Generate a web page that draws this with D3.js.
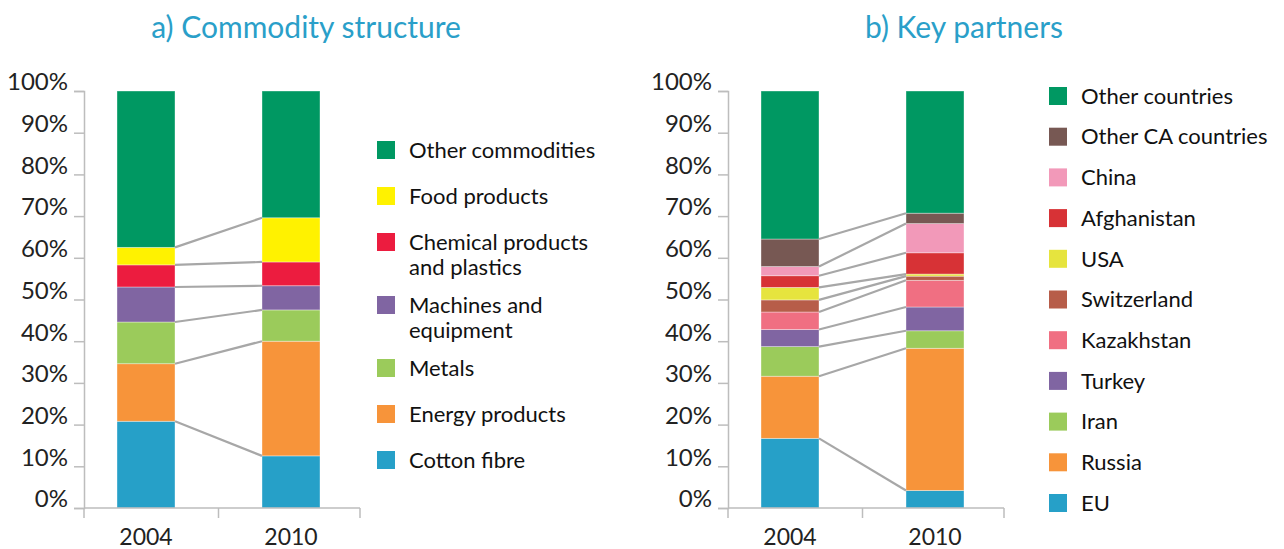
<!DOCTYPE html>
<html>
<head>
<meta charset="utf-8">
<script src="https://cdn.jsdelivr.net/npm/d3@7"></script>
<style>
  body { margin: 0; background: #fff; }
  text { font-family: Lato, "Open Sans", sans-serif; }
</style>
</head>
<body>
<div id="chart"></div>
<script>
// data (shares, %), listed bottom to top of the stack
const years = ['2004', '2010'];
const yTickValues = [0, 10, 20, 30, 40, 50, 60, 70, 80, 90, 100];

const commodityNames = ['Cotton fibre', 'Energy products', 'Metals', 'Machines and equipment',
  'Chemical products and plastics', 'Food products', 'Other commodities'];
const commodity2004 = [20.8, 13.8, 10.0, 8.4, 5.3, 4.2, 37.5];
const commodity2010 = [12.5, 27.5, 7.5, 5.8, 5.7, 10.6, 30.4];
const commodityLegend = [['Cotton fibre'], ['Energy products'], ['Metals'], ['Machines and', 'equipment'],
  ['Chemical products', 'and plastics'], ['Food products'], ['Other commodities']];

const partnerNames = ['EU', 'Russia', 'Iran', 'Turkey', 'Kazakhstan', 'Switzerland', 'USA',
  'Afghanistan', 'China', 'Other CA countries', 'Other countries'];
const partner2004 = [16.7, 14.9, 7.1, 4.1, 4.2, 2.9, 3.0, 2.8, 2.2, 6.6, 35.5];
const partner2010 = [4.2, 34.1, 4.2, 5.7, 6.4, 1.0, 0.5, 5.1, 7.0, 2.5, 29.3];

const commodityColors = ['#26a0c8', '#f7943a', '#9bcb5b', '#8065a2', '#ec1c3f', '#fff200', '#009862'];
const partnerColors = ['#26a0c8', '#f7943a', '#9bcb5b', '#8065a2', '#f06f82', '#b75d49', '#e6e43e',
  '#d73236', '#f299b9', '#775853', '#009862'];

const W = 1284, H = 549;
const svg = d3.select('#chart').append('svg')
  .attr('width', W).attr('height', H);

function drawPanel(cfg) {
  const g = svg.append('g');

  const y = d3.scaleLinear().domain([0, 100]).range([508, 91]);
  // bars 58px wide, 145px apart
  const x = d3.scaleBand().domain(years)
    .range([cfg.x0, cfg.x0 + 269]).paddingInner(0.6).paddingOuter(0.2276);

  // title
  g.append('text')
    .attr('x', cfg.titleX).attr('y', 38)
    .attr('text-anchor', 'middle')
    .attr('fill', '#2a9fc9')
    .style('font-size', '30px')
    .text(cfg.title);

  // stacks
  const rows = [cfg.v2004, cfg.v2010];
  const stacks = rows.map(vals => {
    let acc = 0;
    return vals.map((v, i) => { const s = { y0: acc, y1: acc + v, i }; acc += v; return s; });
  });

  years.forEach((yr, k) => {
    g.selectAll('.seg' + k)
      .data(stacks[k])
      .enter().append('rect')
      .attr('x', x(yr))
      .attr('width', x.bandwidth())
      .attr('y', d => y(d.y1))
      .attr('height', d => y(d.y0) - y(d.y1))
      .attr('fill', d => cfg.colors[d.i])
      .attr('stroke', 'rgba(255,255,255,0.45)')
      .attr('stroke-width', 0.8);
  });

  // connector lines between segment tops
  const links = stacks[0].slice(0, -1).map((s, i) => ({ a: s.y1, b: stacks[1][i].y1 }));
  g.selectAll('.link')
    .data(links)
    .enter().append('line')
    .attr('x1', x(years[0]) + x.bandwidth())
    .attr('x2', x(years[1]))
    .attr('y1', d => y(d.a))
    .attr('y2', d => y(d.b))
    .attr('stroke', '#a7a7a7')
    .attr('stroke-width', 2.2);

  // y axis
  const yAxis = g.append('g')
    .attr('transform', 'translate(' + cfg.x0 + ',0)')
    .call(d3.axisLeft(y).tickValues(yTickValues).tickSize(10).tickPadding(6)
      .tickFormat(d => d + '%'));
  yAxis.select('.domain').attr('stroke', '#bdbdbd').attr('stroke-width', 1.5);
  yAxis.selectAll('.tick line').attr('stroke', '#bdbdbd').attr('stroke-width', 1.5);
  yAxis.selectAll('.tick text')
    .attr('dy', '-0.05em')
    .attr('fill', '#222')
    .style('font-size', '24px');

  // x axis
  const xAxis = g.append('g')
    .attr('transform', 'translate(0,508)');
  xAxis.append('line')
    .attr('x1', cfg.x0).attr('x2', cfg.x1)
    .attr('stroke', '#bdbdbd').attr('stroke-width', 1.5);
  const edges = [cfg.x0, (x(years[0]) + x.bandwidth() + x(years[1])) / 2, cfg.x1];
  xAxis.selectAll('.xt')
    .data(edges)
    .enter().append('line')
    .attr('x1', d => d).attr('x2', d => d)
    .attr('y1', 0).attr('y2', 10)
    .attr('stroke', '#bdbdbd').attr('stroke-width', 1.5);
  xAxis.selectAll('.xl')
    .data(years)
    .enter().append('text')
    .attr('x', d => x(d) + x.bandwidth() / 2)
    .attr('y', 37)
    .attr('text-anchor', 'middle')
    .attr('fill', '#222')
    .style('font-size', '23px')
    .text(d => d);

  // legend, top to bottom
  const items = cfg.legend.map((lines, i) => ({ lines, color: cfg.colors[i] })).reverse();
  let cy = cfg.legendTop;
  items.forEach(it => {
    const lg = g.append('g').attr('transform', 'translate(' + cfg.legendX + ',' + cy + ')');
    lg.append('rect')
      .attr('x', 0).attr('y', -9)
      .attr('width', 18).attr('height', 18)
      .attr('fill', it.color);
    lg.append('text')
      .attr('x', 32).attr('y', 0)
      .attr('fill', '#111')
      .style('font-size', '22px')
      .selectAll('tspan')
      .data(it.lines)
      .enter().append('tspan')
      .attr('x', 32)
      .attr('y', (d, j) => j * 25)
      .attr('dy', '0.35em')
      .text(d => d);
    cy += cfg.legendStep + (it.lines.length - 1) * 17;
  });
}

drawPanel({
  title: 'a) Commodity structure', titleX: 306,
  x0: 84, x1: 360,
  v2004: commodity2004, v2010: commodity2010,
  colors: commodityColors, legend: commodityLegend,
  legendX: 377, legendTop: 150, legendStep: 46
});

drawPanel({
  title: 'b) Key partners', titleX: 964,
  x0: 728, x1: 1004,
  v2004: partner2004, v2010: partner2010,
  colors: partnerColors, legend: partnerNames.map(n => [n]),
  legendX: 1049, legendTop: 96, legendStep: 40.7
});
</script>
</body>
</html>
